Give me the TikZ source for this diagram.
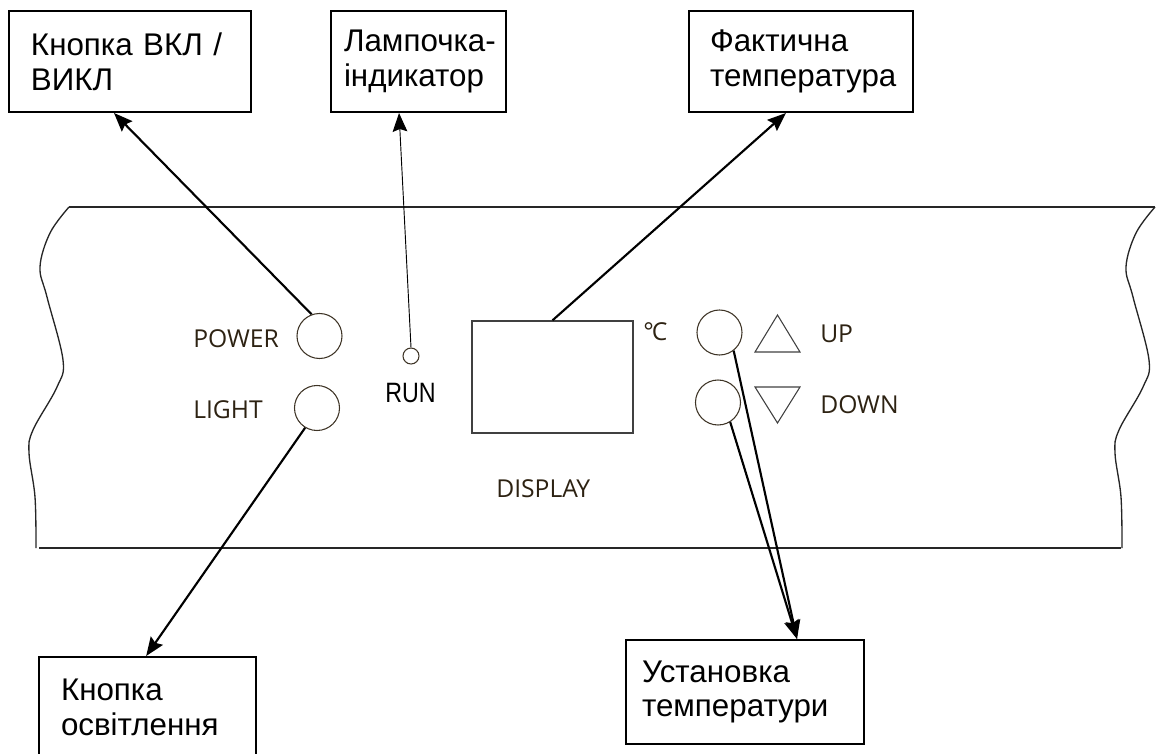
\documentclass[tikz,border=0pt]{standalone}
\usepackage{fontspec}
\usepackage{xcolor}
\setmainfont{Liberation Sans}
\newfontfamily\panelfont{Open Sans}
\newfontfamily\runfont[FakeStretch=0.83]{Liberation Sans}
\usetikzlibrary{arrows.meta}
\definecolor{labelbrown}{RGB}{45,34,18}
\definecolor{knobline}{RGB}{62,52,38}

\tikzset{
  callout/.style={rectangle,draw,line width=1.5pt,anchor=north west,align=left,
    font=\fontsize{23.5}{26}\selectfont,inner ysep=0pt},
  knob/.style={circle,draw=knobline,line width=0.8pt,minimum size=33.75pt,inner sep=0pt},
  paneltext/.style={anchor=base west,inner sep=0pt,text=labelbrown,
    font=\panelfont\fontsize{18.5}{20}\selectfont},
  pointer/.style={line width=1.6pt,-{Stealth[length=14pt,width=11pt,inset=2pt]}},
  thinpointer/.style={line width=0.7pt,-{Stealth[length=14pt,width=11pt,inset=2pt]}}
}

\begin{document}
\begin{tikzpicture}[x=0.75pt,y=-0.75pt]
\useasboundingbox (0,0) rectangle (1165,754);

\node (onoff) at (8,10) [callout,minimum height=75.75pt,inner xsep=16.5pt,text width=148.5pt] {Кнопка ВКЛ /\\ВИКЛ};
\node (lamp) at (330,10) [callout,minimum height=75.75pt,inner xsep=9.75pt,text width=111.75pt] {\mbox{Лампочка-}\\індикатор};
\node (actual) at (688,10) [callout,minimum height=75.75pt,inner xsep=15.75pt,text width=136.5pt] {Фактична\\температура};
\node (lightbtn) at (38,656) [callout,minimum height=75.75pt,inner xsep=16.5pt,text width=129.75pt] {Кнопка\\освітлення};
\node (setting) at (625,639) [callout,minimum height=78pt,inner xsep=12pt,text width=154.5pt] {Установка\\температури};

\draw[black!85,line width=1pt] plot[smooth,tension=0.6] coordinates {(69,207) (50,233) (40,267) (47,297) (63,360) (57,387) (33,430) (29,453) (35,497) (36,548)};
\draw[black!85,line width=1pt] plot[smooth,tension=0.6] coordinates {(1155,207) (1136,233) (1126,267) (1133,297) (1149,360) (1143,387) (1119,430) (1115,453) (1121,497) (1122,548)};
\draw[black!85,line width=1pt] (69,207) -- (1155,207);
\draw[black!85,line width=1pt] (39,548) -- (1121,548);

\node (pow) at (319.5,336) [knob] {};
\node (light) at (317,408) [knob] {};
\node (run) at (411,356) [circle,draw=knobline,line width=0.8pt,minimum size=12pt,inner sep=0pt] {};
\node (up) at (719.5,332.5) [knob] {};
\node (down) at (718,402.5) [knob] {};
\node (disp) at (552.5,377) [rectangle,draw=black!75,line width=1pt,minimum width=120.75pt,minimum height=84pt,inner sep=0pt] {};

\draw[black!75,line width=0.8pt] (755,352) -- (800,352) -- (777.5,315) -- cycle;
\draw[black!75,line width=0.8pt] (755,387) -- (800,387) -- (777.5,423) -- cycle;

\node (powtxt) at (193,347) [paneltext] {POWER};
\node (lighttxt) at (193,418) [paneltext] {LIGHT};
\node (uptxt) at (820,342) [paneltext] {UP};
\node (downtxt) at (820,413) [paneltext] {DOWN};
\node (disptxt) at (496,497) [paneltext] {DISPLAY};
\node (deg) at (643,340) [paneltext] {°\kern-1.5pt C};
\node (runtxt) at (385,402) [anchor=base west,inner sep=0pt,font=\runfont\fontsize{21}{22}\selectfont] {RUN};

\draw[pointer] (pow.110) -- ([xshift=-12pt]onoff.south);
\draw[thinpointer] (run.north) -- ([xshift=-14.6pt]lamp.south);
\draw[pointer] (disp.north) -- ([xshift=-11.25pt]actual.south);
\draw[pointer] (light.239) -- ([xshift=-1pt]lightbtn.north);
\draw[pointer] (up.308) -- ([xshift=39pt]setting.north);
\draw[pointer] (down.302) -- ([xshift=39pt]setting.north);
\end{tikzpicture}
\end{document}
